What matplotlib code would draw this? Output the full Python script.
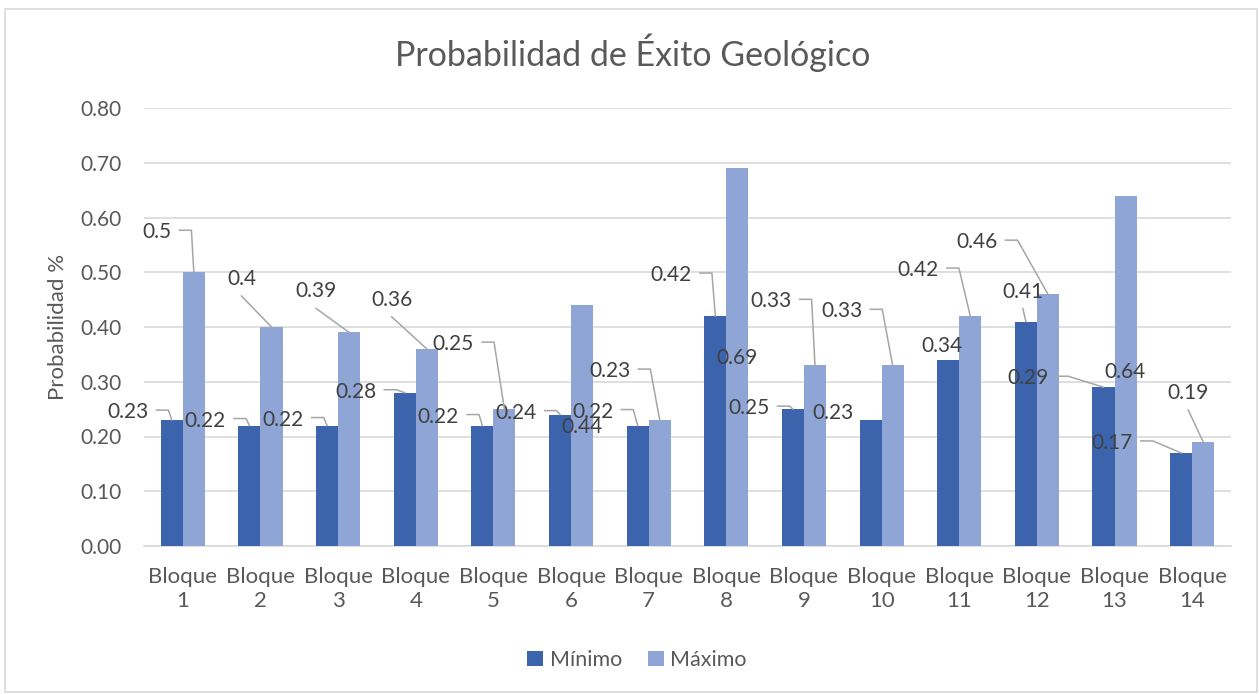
import matplotlib
matplotlib.use("Agg")
import matplotlib.pyplot as plt
import numpy as np
from matplotlib.lines import Line2D
from matplotlib.patches import Rectangle
from matplotlib.transforms import IdentityTransform

plt.rcParams['font.family'] = ['Lato', 'DejaVu Sans']

# data
categories = ["Bloque\n%d" % i for i in range(1, 15)]
minimo = [0.23, 0.22, 0.22, 0.28, 0.22, 0.24, 0.22, 0.42, 0.25, 0.23, 0.34, 0.41, 0.29, 0.17]
maximo = [0.50, 0.40, 0.39, 0.36, 0.25, 0.44, 0.23, 0.69, 0.33, 0.33, 0.42, 0.46, 0.64, 0.19]
min_labels = ["0.23", "0.22", "0.22", "0.28", "0.22", "0.24", "0.22", "0.42", "0.25", "0.23", "0.34", "0.41", "0.29", "0.17"]
max_labels = ["0.5", "0.4", "0.39", "0.36", "0.25", "0.44", "0.23", "0.69", "0.33", "0.33", "0.42", "0.46", "0.64", "0.19"]
yticks = [0.0, 0.1, 0.2, 0.3, 0.4, 0.5, 0.6, 0.7, 0.8]

# label placement (pixel offsets from bar top) and leader style, as Excel left them
min_offsets = [(-44, 8), (-44, 5), (-44, 6), (-49, 1), (-44, 9), (-44, 2), (-45, 14),
               (-44, 41), (-44, 1), (-38, 7), (-6, 14), (-3, 30), (-76, 9), (-69, 10)]
min_leader = ['side', 'side', 'side', 'side', 'side', 'side', 'side',
              'side', 'side', None, None, 'below', 'side', 'side']
max_offsets = [(-37, 40), (-30, 48), (-33, 41), (-35, 49), (-51, 65), (0, -122), (-50, 49),
               (0, -190), (-44, 64), (-51, 54), (-52, 46), (-71, 52), (-1, -176), (-15, 49)]
max_leader = ['side', 'below', 'below', 'below', 'side', None, 'side',
              None, 'side', 'side', 'side', 'side', None, 'below']

c_min = '#3B64AD'
c_max = '#8FA5D6'
c_text = '#404040'
c_axis = '#595959'
c_grid = '#D9D9D9'
c_leader = '#A6A6A6'

W, H = 1259, 694
fig = plt.figure(figsize=(W / 100, H / 100), dpi=100)
ax = fig.add_axes([144 / W, 1 - 546 / H, (1231 - 144) / W, (546 - 108) / H])

x = np.arange(len(categories))
bw = 0.284
b1 = ax.bar(x - bw / 2, minimo, bw, color=c_min, label='Mínimo', zorder=3)
b2 = ax.bar(x + bw / 2, maximo, bw, color=c_max, label='Máximo', zorder=3)

ax.set_xlim(-0.5, len(categories) - 0.5)
ax.set_ylim(0, 0.8)
ax.set_yticks(yticks)
ax.set_yticklabels(["%.2f" % t for t in yticks])
ax.set_xticks(x)
ax.set_xticklabels(categories, linespacing=1.28)
ax.tick_params(axis='both', length=0, labelsize=15, labelcolor=c_axis)
ax.tick_params(axis='x', labelsize=16, pad=15)
ax.tick_params(axis='y', pad=16)
ax.yaxis.grid(True, color=c_grid, linewidth=1.2, zorder=0)
ax.set_axisbelow(True)
for s in ['top', 'right', 'left']:
    ax.spines[s].set_visible(False)
ax.spines['bottom'].set_color(c_grid)
ax.spines['bottom'].set_linewidth(1.2)

ax.set_ylabel('Probabilidad %', fontsize=16, color=c_axis)
ax.yaxis.set_label_coords(-0.07, 0.5)

fig.text(633 / W, 1 - 53 / H, 'Probabilidad de Éxito Geológico', fontsize=24.5,
         color=c_axis, ha='center', va='center')

fig.legend(handles=[b1, b2], loc='center', bbox_to_anchor=(637 / W, 1 - 660 / H), ncol=2,
           frameon=False, fontsize=15.5, handlelength=0.75, handleheight=0.75,
           handletextpad=0.3, columnspacing=1.2, labelcolor=c_axis)

fig.patches.append(Rectangle((5 / W, 2 / H), 1252 / W, (H - 11) / H, transform=fig.transFigure,
                             fill=False, edgecolor=c_grid, linewidth=1.2))

# data labels
notes = []
for vals, labels, offs, leads, sign in [(minimo, min_labels, min_offsets, min_leader, -1),
                                        (maximo, max_labels, max_offsets, max_leader, 1)]:
    for i, v in enumerate(vals):
        xb = x[i] + sign * bw / 2
        t = ax.annotate(labels[i], xy=(xb, v), xytext=offs[i], textcoords='offset pixels',
                        ha='center', va='center', fontsize=15, color=c_text, zorder=5)
        notes.append((t, xb, v, leads[i]))

fig.canvas.draw()
r = fig.canvas.get_renderer()
for t, xb, v, kind in notes:
    if kind is None:
        continue
    px, py = ax.transData.transform((xb, v))
    bb = t.get_window_extent(r)
    cx, cy = (bb.x0 + bb.x1) / 2, (bb.y0 + bb.y1) / 2
    if kind == 'side':
        sx = bb.x1 + 8
        xs, ys = [sx, sx + 12, px], [cy + 2, cy + 2, py]
    else:
        xs, ys = [cx, px], [cy - 17, py]
    fig.add_artist(Line2D(xs, ys, color=c_leader, linewidth=1.1,
                          transform=IdentityTransform(), zorder=4))

fig.savefig('out.png', dpi=100)
